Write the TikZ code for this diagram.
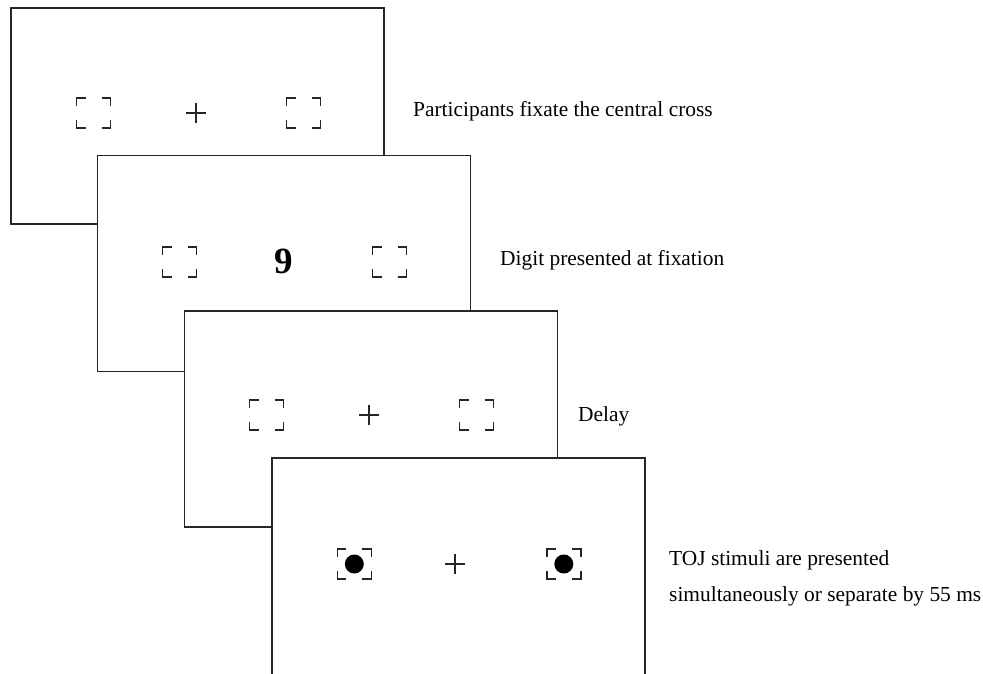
\documentclass[tikz,border=0pt]{standalone}
\usepackage{fontspec}
\setmainfont{Liberation Serif}
\begin{document}
\begin{tikzpicture}[x=1pt,y=-1pt,
  frame/.style={draw=black!85,line width=1.9pt,fill=white,rectangle,minimum width=373pt,minimum height=216pt,inner sep=0pt},
  lbl/.style={anchor=base west,inner sep=0pt,font=\fontsize{21.4}{25}\selectfont},
  digit/.style={inner sep=0pt,font=\fontsize{37}{40}\selectfont\bfseries},
  brk/.style={draw=black!85,line width=1.5pt},
  crs/.style={draw=black!85,line width=1.3pt},
  dotc/.style={fill=black}]
\useasboundingbox (0,0) rectangle (983,674);
\clip (0,0) rectangle (983,674);
\tikzset{
  bracket/.pic={
    \draw[brk] (-17,-7) -- (-17,-15) -- (-8,-15);
    \draw[brk] (8,-15) -- (17,-15) -- (17,-7);
    \draw[brk] (-17,7) -- (-17,15) -- (-8,15);
    \draw[brk] (8,15) -- (17,15) -- (17,7);
  },
  cross/.pic={
    \draw[crs] (-10,0) -- (10,0);
    \draw[crs] (0,-10) -- (0,10);
  }
}
% Frame 1
\node[frame] (f1) at (197.5,116) {};
\pic at (93.5,113) {bracket};
\pic at (196,113) {cross};
\pic at (303.5,113) {bracket};
\node[lbl] (t1) at (413,117) {Participants fixate the central cross};
% Frame 2
\node[frame] (f2) at (284,263.5) {};
\pic at (179.5,262) {bracket};
\node[digit] (d9) at (284,261) {9};
\pic at (389.5,262) {bracket};
\node[lbl] (t2) at (500,265) {Digit presented at fixation};
% Frame 3
\node[frame] (f3) at (371,419) {};
\pic at (266.5,415) {bracket};
\pic at (369,415) {cross};
\pic at (476.5,415) {bracket};
\node[lbl] (t3) at (578,421) {Delay};
% Frame 4
\node[frame,minimum height=219pt] (f4) at (458.5,567.5) {};
\fill[dotc] (354.3,564) circle (9.5);
\pic at (354.3,564) {bracket};
\pic at (455,564) {cross};
\fill[dotc] (563.8,564) circle (9.5);
\pic at (563.8,564) {bracket};
\node[lbl] (t4a) at (669,565) {TOJ stimuli are presented};
\node[lbl] (t4b) at (669,601.5) {simultaneously or separate by 55 ms};
\end{tikzpicture}
\end{document}
